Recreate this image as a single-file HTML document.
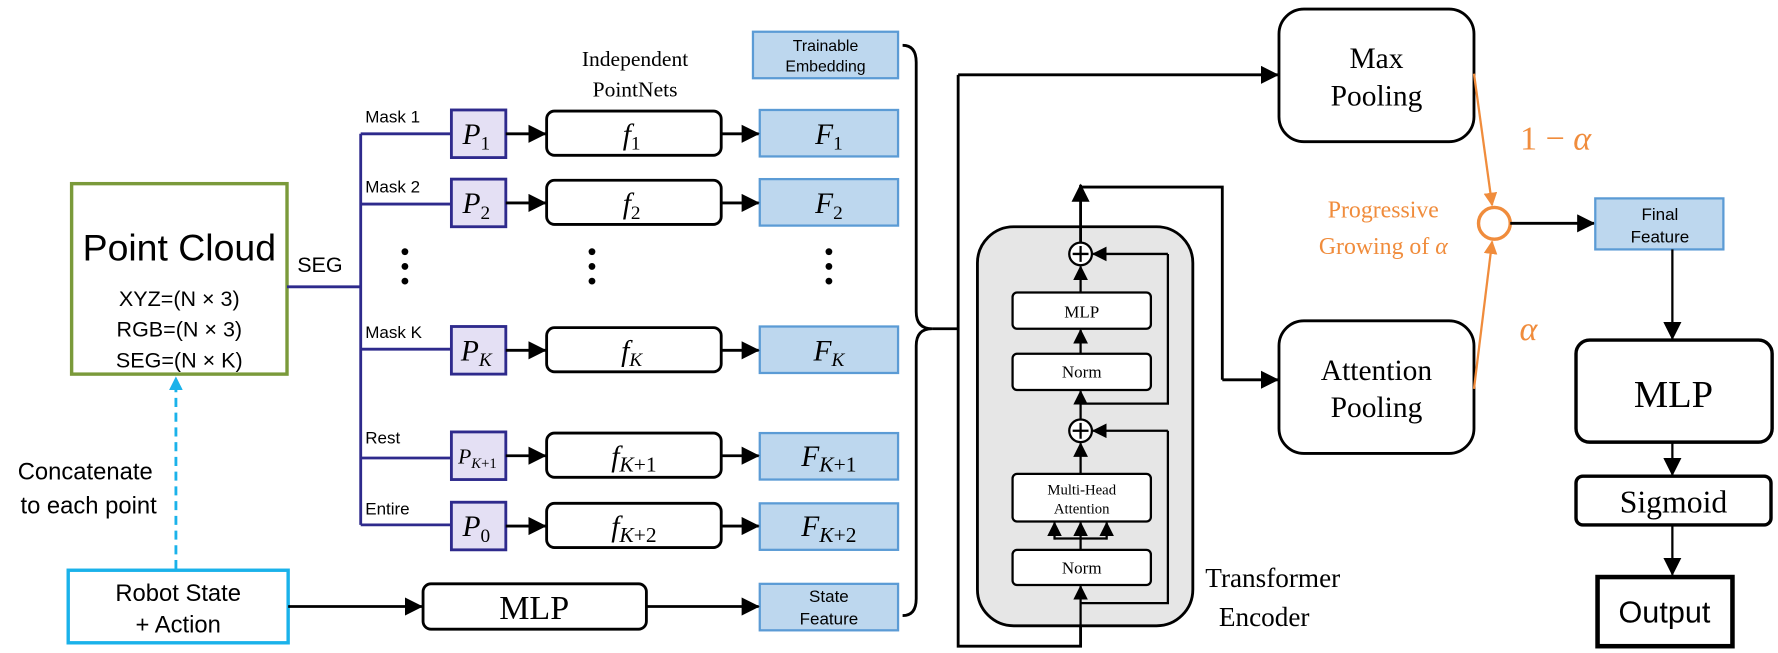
<!DOCTYPE html>
<html><head><meta charset="utf-8"><style>
html,body{margin:0;padding:0;background:#fff;}
svg{display:block;}
.s{font-family:"Liberation Sans",sans-serif;}
.r{font-family:"Liberation Serif",serif;}
</style></head><body>
<svg width="1778" height="653" viewBox="0 0 1568 576" xmlns="http://www.w3.org/2000/svg">
<defs>
<marker id="a" markerWidth="13" markerHeight="13" refX="12" refY="6.5" orient="auto" markerUnits="userSpaceOnUse"><path d="M0,0 L13,6.5 L0,13 z" fill="#000"/></marker>
<marker id="ab" markerWidth="16" markerHeight="16" refX="15" refY="8" orient="auto" markerUnits="userSpaceOnUse"><path d="M0,0 L16,8 L0,16 z" fill="#000"/></marker>
<marker id="ac" markerWidth="12" markerHeight="12" refX="11" refY="6" orient="auto" markerUnits="userSpaceOnUse"><path d="M0,0 L12,6 L0,12 z" fill="#1ab2ea"/></marker>
<marker id="ao" markerWidth="12" markerHeight="12" refX="11" refY="6" orient="auto" markerUnits="userSpaceOnUse"><path d="M0,0 L12,6 L0,12 z" fill="#f08c3c"/></marker>
</defs>
<!-- Point cloud -->
<rect x="63" y="162" width="190" height="168" fill="#fff" stroke="#7a9a3a" stroke-width="3"/>
<text x="158" y="230" class="s" font-size="33" text-anchor="middle">Point Cloud</text>
<text x="158" y="270" class="s" font-size="19" text-anchor="middle">XYZ=(N × 3)</text>
<text x="158" y="297" class="s" font-size="19" text-anchor="middle">RGB=(N × 3)</text>
<text x="158" y="324" class="s" font-size="19" text-anchor="middle">SEG=(N × K)</text>
<!-- Robot -->
<rect x="60" y="503" width="194" height="64" fill="#fff" stroke="#1ab2ea" stroke-width="3"/>
<text x="157" y="530" class="s" font-size="21" text-anchor="middle">Robot State</text>
<text x="157" y="558" class="s" font-size="21" text-anchor="middle">+ Action</text>
<line x1="155" y1="502" x2="155" y2="333" stroke="#1ab2ea" stroke-width="2.5" stroke-dasharray="8,5" marker-end="url(#ac)"/>
<text x="75" y="423" class="s" font-size="21" text-anchor="middle">Concatenate</text>
<text x="78" y="453" class="s" font-size="21" text-anchor="middle">to each point</text>
<!-- SEG -->
<text x="262" y="240" class="s" font-size="19">SEG</text>
<path d="M253,253 H318 M318,118 V463 M318,118 H398 M318,180 H398 M318,308 H398 M318,404 H398 M318,463 H398" stroke="#2e2a8c" stroke-width="2.5" fill="none"/>
<g class="s" font-size="15">
<text x="322" y="108">Mask 1</text><text x="322" y="170">Mask 2</text><text x="322" y="298">Mask K</text><text x="322" y="391">Rest</text><text x="322" y="454">Entire</text>
</g>
<g fill="#000">
<circle cx="357" cy="222" r="3"/><circle cx="357" cy="235" r="3"/><circle cx="357" cy="248" r="3"/>
<circle cx="522" cy="222" r="3"/><circle cx="522" cy="235" r="3"/><circle cx="522" cy="248" r="3"/>
<circle cx="731" cy="222" r="3"/><circle cx="731" cy="235" r="3"/><circle cx="731" cy="248" r="3"/>
</g>
<text x="560" y="58" class="r" font-size="19" text-anchor="middle">Independent</text>
<text x="560" y="85" class="r" font-size="19" text-anchor="middle">PointNets</text>
<!-- rows -->
<g stroke-width="2.5">
<rect x="398" y="97" width="48" height="42" fill="#e4e0f4" stroke="#2e2a8c"/>
<rect x="398" y="158" width="48" height="42" fill="#e4e0f4" stroke="#2e2a8c"/>
<rect x="398" y="288" width="48" height="42" fill="#e4e0f4" stroke="#2e2a8c"/>
<rect x="398" y="381" width="48" height="42" fill="#e4e0f4" stroke="#2e2a8c"/>
<rect x="398" y="443" width="48" height="42" fill="#e4e0f4" stroke="#2e2a8c"/>
</g>
<g stroke="#000" stroke-width="2.5" fill="#fff">
<rect x="482" y="98" width="154" height="39" rx="7"/>
<rect x="482" y="159" width="154" height="39" rx="7"/>
<rect x="482" y="289" width="154" height="39" rx="7"/>
<rect x="482" y="382" width="154" height="39" rx="7"/>
<rect x="482" y="444" width="154" height="39" rx="7"/>
</g>
<g stroke="#5b9bd5" stroke-width="2" fill="#bdd7ee">
<rect x="664" y="28" width="128" height="41"/>
<rect x="670" y="97" width="122" height="41"/>
<rect x="670" y="158" width="122" height="41"/>
<rect x="670" y="288" width="122" height="41"/>
<rect x="670" y="382" width="122" height="41"/>
<rect x="670" y="444" width="122" height="41"/>
<rect x="670" y="515" width="122" height="41"/>
</g>
<g stroke="#000" stroke-width="2.5">
<line x1="446" y1="118" x2="481" y2="118" marker-end="url(#ab)"/><line x1="636" y1="118" x2="669" y2="118" marker-end="url(#ab)"/>
<line x1="446" y1="179" x2="481" y2="179" marker-end="url(#ab)"/><line x1="636" y1="179" x2="669" y2="179" marker-end="url(#ab)"/>
<line x1="446" y1="309" x2="481" y2="309" marker-end="url(#ab)"/><line x1="636" y1="309" x2="669" y2="309" marker-end="url(#ab)"/>
<line x1="446" y1="402" x2="481" y2="402" marker-end="url(#ab)"/><line x1="636" y1="402" x2="669" y2="402" marker-end="url(#ab)"/>
<line x1="446" y1="464" x2="481" y2="464" marker-end="url(#ab)"/><line x1="636" y1="464" x2="669" y2="464" marker-end="url(#ab)"/>
</g>
<g class="r" font-style="italic" font-size="26" text-anchor="middle">
<text x="420" y="127">P<tspan font-size="17" dy="5" font-style="normal">1</tspan></text>
<text x="420" y="188">P<tspan font-size="17" dy="5" font-style="normal">2</tspan></text>
<text x="420" y="318">P<tspan font-size="17" dy="5">K</tspan></text>
<text x="421" y="409" font-size="19">P<tspan font-size="13" dy="4">K</tspan><tspan font-size="13" font-style="normal">+1</tspan></text>
<text x="420" y="473">P<tspan font-size="17" dy="5" font-style="normal">0</tspan></text>
<text x="557" y="127">f<tspan font-size="17" dy="5" font-style="normal">1</tspan></text>
<text x="557" y="188">f<tspan font-size="17" dy="5" font-style="normal">2</tspan></text>
<text x="557" y="318">f<tspan font-size="17" dy="5">K</tspan></text>
<text x="559" y="411">f<tspan font-size="19" dy="5">K</tspan><tspan font-size="19" font-style="normal">+1</tspan></text>
<text x="559" y="473">f<tspan font-size="19" dy="5">K</tspan><tspan font-size="19" font-style="normal">+2</tspan></text>
<text x="731" y="127">F<tspan font-size="17" dy="5" font-style="normal">1</tspan></text>
<text x="731" y="188">F<tspan font-size="17" dy="5" font-style="normal">2</tspan></text>
<text x="731" y="318">F<tspan font-size="17" dy="5">K</tspan></text>
<text x="731" y="411">F<tspan font-size="19" dy="5">K</tspan><tspan font-size="19" font-style="normal">+1</tspan></text>
<text x="731" y="473">F<tspan font-size="19" dy="5">K</tspan><tspan font-size="19" font-style="normal">+2</tspan></text>
</g>
<text x="728" y="45" class="s" font-size="14" text-anchor="middle">Trainable</text>
<text x="728" y="63" class="s" font-size="14" text-anchor="middle">Embedding</text>
<text x="731" y="531" class="s" font-size="15" text-anchor="middle">State</text>
<text x="731" y="551" class="s" font-size="15" text-anchor="middle">Feature</text>
<!-- MLP bottom -->
<rect x="373" y="515" width="197" height="40" rx="7" fill="#fff" stroke="#000" stroke-width="2.5"/>
<text x="471" y="546" class="r" font-size="30" text-anchor="middle">MLP</text>
<line x1="254" y1="535" x2="372" y2="535" stroke="#000" stroke-width="2.5" marker-end="url(#ab)"/>
<line x1="570" y1="535" x2="669" y2="535" stroke="#000" stroke-width="2.5" marker-end="url(#ab)"/>
<!-- brace -->
<path d="M796,40 Q808,40 808,55 V275 Q808,290 822,290 Q808,290 808,305 V528 Q808,543 796,543" fill="none" stroke="#000" stroke-width="2.5"/>
<path d="M822,290 H845 M845,66 V570 H953 V531" fill="none" stroke="#000" stroke-width="2.5"/>
<line x1="845" y1="66" x2="1127" y2="66" stroke="#000" stroke-width="2.5" marker-end="url(#ab)"/>
<!-- transformer -->
<rect x="862" y="200" width="190" height="352" rx="32" fill="#e6e6e6" stroke="#000" stroke-width="2.5"/>
<g stroke="#000" stroke-width="2" fill="#fff">
<rect x="893" y="258" width="122" height="32" rx="4"/>
<rect x="893" y="312" width="122" height="32" rx="4"/>
<rect x="893" y="418" width="122" height="42" rx="4"/>
<rect x="893" y="485" width="122" height="31" rx="4"/>
<circle cx="953" cy="224" r="10"/>
<circle cx="953" cy="380" r="10"/>
</g>
<g stroke="#000" stroke-width="2" fill="none">
<path d="M946,224 H960 M953,217 V231 M946,380 H960 M953,373 V387"/>
<line x1="953" y1="552" x2="953" y2="517" marker-end="url(#a)"/>
<path d="M953,532 H1030 V380"/><line x1="1030" y1="380" x2="964" y2="380" marker-end="url(#a)"/>
<path d="M953,356 H1030 V224"/><line x1="1030" y1="224" x2="964" y2="224" marker-end="url(#a)"/>
<line x1="953" y1="418" x2="953" y2="391" marker-end="url(#a)"/>
<line x1="953" y1="312" x2="953" y2="291" marker-end="url(#a)"/>
<line x1="953" y1="370" x2="953" y2="345" marker-end="url(#a)"/>
<line x1="953" y1="258" x2="953" y2="235" marker-end="url(#a)"/>
<path d="M953,485 V475 M930,475 H976"/>
<line x1="930" y1="476" x2="930" y2="461" marker-end="url(#a)"/>
<line x1="953" y1="476" x2="953" y2="461" marker-end="url(#a)"/>
<line x1="976" y1="476" x2="976" y2="461" marker-end="url(#a)"/>
</g>
<g stroke="#000" stroke-width="2.5" fill="none">
<line x1="953" y1="214" x2="953" y2="163" marker-end="url(#ab)"/>
<path d="M953,165 H1078 V335"/>
<line x1="1078" y1="335" x2="1127" y2="335" marker-end="url(#ab)"/>
</g>
<g class="r" text-anchor="middle">
<text x="954" y="280" font-size="15">MLP</text>
<text x="954" y="333" font-size="15">Norm</text>
<text x="954" y="436" font-size="13">Multi-Head</text>
<text x="954" y="453" font-size="13">Attention</text>
<text x="954" y="506" font-size="15">Norm</text>
<text x="1063" y="518" font-size="24" text-anchor="start">Transformer</text>
<text x="1075" y="552" font-size="24" text-anchor="start">Encoder</text>
</g>
<!-- pooling -->
<rect x="1128" y="8" width="172" height="117" rx="22" fill="#fff" stroke="#000" stroke-width="2.5"/>
<text x="1214" y="60" class="r" font-size="26" text-anchor="middle">Max</text>
<text x="1214" y="93" class="r" font-size="26" text-anchor="middle">Pooling</text>
<rect x="1128" y="283" width="172" height="117" rx="22" fill="#fff" stroke="#000" stroke-width="2.5"/>
<text x="1214" y="335" class="r" font-size="26" text-anchor="middle">Attention</text>
<text x="1214" y="368" class="r" font-size="26" text-anchor="middle">Pooling</text>
<!-- orange -->
<circle cx="1318" cy="197" r="14" fill="#fff" stroke="#f08c3c" stroke-width="3"/>
<line x1="1300" y1="65" x2="1316" y2="181" stroke="#f08c3c" stroke-width="2" marker-end="url(#ao)"/>
<line x1="1300" y1="343" x2="1316" y2="213" stroke="#f08c3c" stroke-width="2" marker-end="url(#ao)"/>
<text x="1372" y="132" class="r" font-size="30" fill="#f08c3c" text-anchor="middle">1 − <tspan font-style="italic">α</tspan></text>
<text x="1348" y="300" class="r" font-size="30" fill="#f08c3c" font-style="italic" text-anchor="middle">α</text>
<text x="1220" y="192" class="r" font-size="21" fill="#f08c3c" text-anchor="middle">Progressive</text>
<text x="1220" y="224" class="r" font-size="21" fill="#f08c3c" text-anchor="middle">Growing of <tspan font-style="italic">α</tspan></text>
<!-- right -->
<line x1="1332" y1="197" x2="1406" y2="197" stroke="#000" stroke-width="2.5" marker-end="url(#ab)"/>
<rect x="1407" y="175" width="113" height="45" fill="#bdd7ee" stroke="#5b9bd5" stroke-width="2"/>
<text x="1464" y="194" class="s" font-size="15" text-anchor="middle">Final</text>
<text x="1464" y="214" class="s" font-size="15" text-anchor="middle">Feature</text>
<line x1="1475" y1="220" x2="1475" y2="299" stroke="#000" stroke-width="2" marker-end="url(#ab)"/>
<rect x="1390" y="300" width="173" height="90" rx="12" fill="#fff" stroke="#000" stroke-width="3"/>
<text x="1476" y="359" class="r" font-size="34" text-anchor="middle">MLP</text>
<line x1="1475" y1="390" x2="1475" y2="419" stroke="#000" stroke-width="2" marker-end="url(#ab)"/>
<rect x="1390" y="420" width="172" height="43" rx="6" fill="#fff" stroke="#000" stroke-width="3"/>
<text x="1476" y="452" class="r" font-size="28" text-anchor="middle">Sigmoid</text>
<line x1="1475" y1="463" x2="1475" y2="507" stroke="#000" stroke-width="2" marker-end="url(#ab)"/>
<rect x="1409" y="509" width="119" height="61" fill="#fff" stroke="#000" stroke-width="4"/>
<text x="1468" y="549" class="s" font-size="27" text-anchor="middle">Output</text>
</svg>
</body></html>
